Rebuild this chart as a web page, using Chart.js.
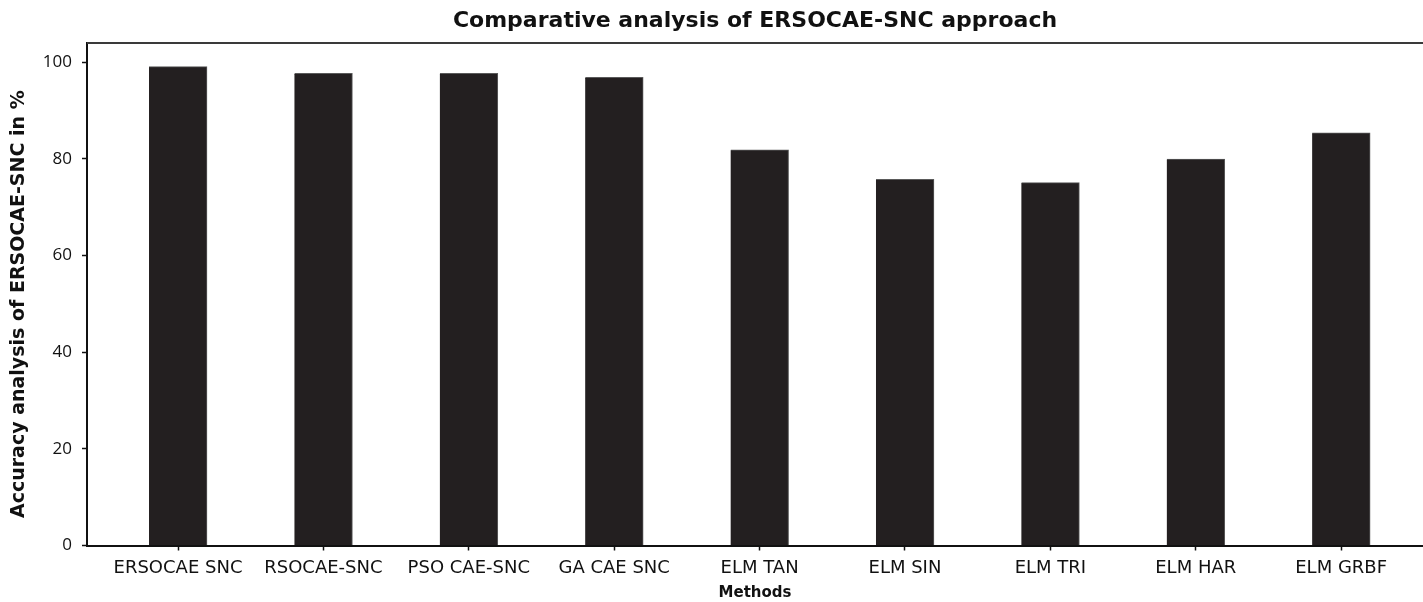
<!DOCTYPE html>
<html>
<head>
<meta charset="utf-8">
<script src="https://cdn.jsdelivr.net/npm/chart.js@4"></script>
<style>
  html, body { margin: 0; padding: 0; background: #fff; overflow: hidden; }
  #wrap { width: 1423px; height: 602px; }
</style>
</head>
<body>
<div id="wrap"><canvas id="accChart" width="1423" height="602"></canvas></div>
<script>
// data
const methods = ['ERSOCAE SNC', 'RSOCAE-SNC', 'PSO CAE-SNC', 'GA CAE SNC', 'ELM TAN', 'ELM SIN', 'ELM TRI', 'ELM HAR', 'ELM GRBF'];
const accuracy = [99.1, 97.7, 97.7, 96.9, 81.9, 75.8, 75.1, 80.0, 85.4];
const yTicks = [0, 20, 40, 60, 80, 100];

const FONT = "'DejaVu Sans', sans-serif";
const INK = '#231f20';

// top frame line of the plot box
const topLine = {
    id: 'topLine',
    afterDraw(chart) {
        const { ctx, chartArea } = chart;
        ctx.save();
        ctx.strokeStyle = '#3a3a3a';
        ctx.lineWidth = 2;
        ctx.beginPath();
        ctx.moveTo(chartArea.left, chartArea.top);
        ctx.lineTo(chart.width, chartArea.top);
        ctx.stroke();
        ctx.restore();
    }
};

const ctx = document.getElementById('accChart').getContext('2d');
new Chart(ctx, {
    type: 'bar',
    data: {
        datasets: [{
            data: accuracy.map((v, i) => ({ x: i, y: v })),
            backgroundColor: INK,
            borderColor: '#5a5a5a',
            borderWidth: { right: 1, top: 1 },
            borderSkipped: 'bottom',
            barThickness: 58
        }]
    },
    options: {
        responsive: false, animation: false,
        layout: { padding: 0 },
        plugins: {
            legend: { display: false },
            tooltip: { enabled: false },
            title: {
                display: true,
                fullSize: false,
                text: 'Comparative analysis of ERSOCAE-SNC approach',
                color: '#111',
                font: { family: FONT, size: 22, weight: 'bold', lineHeight: 1.2 },
                padding: { top: 8, bottom: 8.6 }
            }
        },
        scales: {
            x: {
                type: 'linear',
                offset: false,
                min: -0.626, max: 8.563,
                afterBuildTicks: s => { s.ticks = methods.map((_, i) => ({ value: i })); },
                afterFit: s => { s.height = 56.5; },
                grid: { offset: false, drawOnChartArea: false, tickLength: 5, color: '#111', tickWidth: 1.5 },
                border: { color: '#111', width: 2 },
                ticks: {
                    color: '#111', padding: 7, maxRotation: 0, autoSkip: false,
                    font: { family: FONT, size: 18 },
                    callback: v => methods[v]
                },
                title: {
                    display: true, text: 'Methods', color: '#111',
                    font: { family: FONT, size: 15, weight: 'bold', lineHeight: 1.2 },
                    padding: { top: 0, bottom: 0 }
                }
            },
            y: {
                min: 0, max: 104,
                afterBuildTicks: s => { s.ticks = yTicks.map(v => ({ value: v })); },
                afterFit: s => { s.width = 87; },
                grid: { drawOnChartArea: false, tickLength: 5, color: '#111', tickWidth: 1.5 },
                border: { color: '#111', width: 2 },
                ticks: { color: '#111', padding: 10, font: { family: "'Open Sans', sans-serif", size: 17 } },
                title: {
                    display: true, text: 'Accuracy analysis of ERSOCAE-SNC in %\u00A0\u00A0\u00A0', color: '#111',
                    font: { family: FONT, size: 19, weight: 'bold', lineHeight: 1.2 },
                    padding: { top: 8, bottom: 0 }
                }
            }
        }
    },
    plugins: [topLine]
});
</script>
</body>
</html>
